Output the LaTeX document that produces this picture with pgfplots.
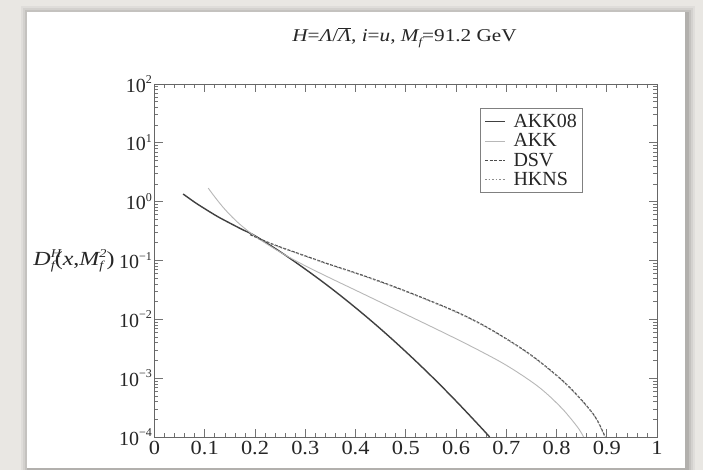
\documentclass[border=0pt]{standalone}
\usepackage{fontspec}
\setmainfont{Liberation Serif}
\usepackage{pgfplots}
\pgfplotsset{compat=1.18}
\definecolor{bgcol}{RGB}{233,231,227}
\newcommand{\tsup}[1]{\raisebox{8.5pt}{\fontsize{12}{12}\selectfont #1}}
\pgfplotstableread{
x y
0.057 1.349
0.08 0.977
0.1 0.759
0.125 0.562
0.15 0.432
0.175 0.335
0.2 0.263
0.25 0.141
0.3 0.0714
0.35 0.0345
0.4 0.01578
0.45 0.00686
0.5 0.00282
0.55 0.001104
0.6 4.09e-4
0.65 1.442e-4
0.667 1.0e-4
}\akkoe
\pgfplotstableread{
x y
0.107 1.698
0.12 1.202
0.137 0.794
0.155 0.543
0.17 0.412
0.19 0.299
0.21 0.226
0.235 0.166
0.26 0.124
0.3 0.0813
0.35 0.0501
0.4 0.0313
0.45 0.0195
0.5 0.01216
0.55 0.00757
0.6 0.00468
0.65 0.00284
0.7 0.00166
0.75 8.75e-4
0.78 5.50e-4
0.81 3.12e-4
0.83 1.98e-4
0.845 1.35e-4
0.854 1.0e-4
}\akk
\pgfplotstableread{
x y
0.19 0.275
0.22 0.214
0.25 0.170
0.3 0.120
0.35 0.0851
0.4 0.0617
0.45 0.0437
0.5 0.0302
0.55 0.0204
0.6 0.0135
0.65 0.00832
0.7 0.00468
0.75 0.00245
0.8 0.00112
0.83 6.46e-4
0.86 3.39e-4
0.88 2.0e-4
0.897 1.0e-4
}\dsv
\pgfplotstableread{
x y
0.20 0.250
0.22 0.210
0.25 0.167
0.3 0.118
0.35 0.0835
0.4 0.0605
0.45 0.0428
0.5 0.0296
0.55 0.0200
0.6 0.0132
0.65 0.00815
0.7 0.00459
0.75 0.00240
0.8 0.00110
0.83 6.33e-4
0.86 3.32e-4
0.88 1.96e-4
0.896 1.0e-4
}\hkns
\begin{document}
\begin{tikzpicture}[x=1pt,y=1pt]
\useasboundingbox (-154.5,-33) rectangle (548.5,437);
\fill[bgcol] (-154.5,-33) rectangle (548.5,437);
\foreach \s/\o in {8/0.04,6/0.05,4/0.07,2/0.09}{
  \fill[black,opacity=\o] (-127.5-\s+2,-31-\s-2) rectangle (530.5+\s+2,425+\s-2);
}
\fill[white] (-127.5,-31) rectangle (530.5,425);
\node[font=\fontsize{18}{20}\selectfont, text=black!85] at (250,399)
  {\scalebox{1.18}[1]{\itshape H\upshape=\itshape Λ\upshape/$\overline{\mbox{\itshape Λ}}$, \itshape i\upshape=\itshape u\upshape, \itshape M\raisebox{-4pt}{\fontsize{11}{11}\selectfont f}\upshape=91.2 GeV}};
\begin{axis}[
  at={(0,0)}, anchor=south west,
  scale only axis, width=502.5pt, height=353pt,
  xmin=0, xmax=1, ymode=log, ymin=1e-4, ymax=1e2,
  axis line style={black!60, line width=0.9pt},
  tick style={black!55, line width=0.7pt},
  major tick length=8pt, minor tick length=4pt,
  tick align=inside,
  xtick={0,0.1,0.2,0.3,0.4,0.5,0.6,0.7,0.8,0.9,1},
  xticklabels={0,0.1,0.2,0.3,0.4,0.5,0.6,0.7,0.8,0.9,1},
  minor x tick num=4,
  ytick={1e-4,1e-3,1e-2,1e-1,1,10,100},
  yticklabels={10\tsup{−4},10\tsup{−3},10\tsup{−2},10\tsup{−1},10\tsup{0},10\tsup{1},10\tsup{2}},
  ticklabel style={font=\fontsize{20}{22}\selectfont, text=black!85},
  xticklabel style={yshift=-1pt, xscale=1.12},
  yticklabel style={xshift=1pt},
  ylabel={\itshape D\makebox[0pt][l]{\raisebox{8pt}{\fontsize{12}{12}\selectfont H}}\raisebox{-4pt}{\fontsize{12}{12}\selectfont f}\upshape(\itshape x\upshape,\itshape M\makebox[0pt][l]{\raisebox{-4pt}{\fontsize{12}{12}\selectfont f}}\raisebox{8pt}{\fontsize{12}{12}\selectfont 2}\upshape)},
  ylabel style={rotate=-90, font=\fontsize{20}{22}\selectfont, text=black!85, xshift=3pt, xscale=1.2},
  legend style={at={(0.648,0.932)}, anchor=north west, draw=black!50, line width=0.8pt,
    font=\fontsize{20}{19}\selectfont, text=black!85, row sep=0.5pt, inner sep=4pt,
    nodes={inner sep=2pt},
    /tikz/every odd column/.append style={column sep=6pt}},
  legend cell align=left,
  legend image post style={xscale=1.15},
]
\addplot[black!75, line width=1.4pt, smooth, tension=0.6] table {\akkoe};
\addlegendentry{AKK08}
\addplot[black!28, line width=0.9pt, smooth, tension=0.6] table {\akk};
\addlegendentry{AKK}
\addplot[black!70, line width=1.1pt, dash pattern=on 3pt off 1.5pt, smooth, tension=0.6] table {\dsv};
\addlegendentry{DSV}
\addplot[black!45, line width=0.9pt, dash pattern=on 1.5pt off 2pt, smooth, tension=0.6] table {\hkns};
\addlegendentry{HKNS}
\end{axis}
\end{tikzpicture}
\end{document}
